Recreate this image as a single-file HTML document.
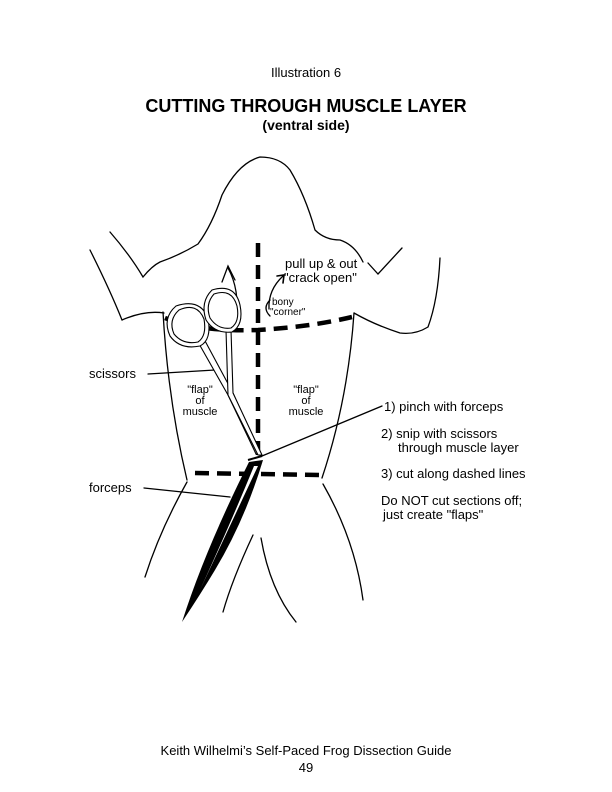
<!DOCTYPE html>
<html><head><meta charset="utf-8"><style>
html,body{margin:0;padding:0;background:#fff;}
svg{display:block;}
text{font-family:"Liberation Sans",Arial,sans-serif;fill:#000;}
</style></head><body>
<svg width="612" height="792" viewBox="0 0 612 792" xmlns="http://www.w3.org/2000/svg">
<text x="306" y="77" font-size="13" text-anchor="middle">Illustration 6</text>
<text x="306" y="112" font-size="18" font-weight="bold" text-anchor="middle">CUTTING THROUGH MUSCLE LAYER</text>
<text x="306" y="130" font-size="14" font-weight="bold" text-anchor="middle">(ventral side)</text>

<g fill="none" stroke="#000" stroke-width="1.3" stroke-linecap="round">
<path d="M110,232 Q130,255 143,277 Q152,266 160,262 Q180,255 198,244 Q212,225 222,195 Q238,163 260,157 Q280,157 290,170 Q305,195 315,230 Q325,240 340,240 Q355,245 363,262"/>
<path d="M90,250 Q110,290 122,320"/>
<path d="M122,320 Q145,310 164,313"/>
<path d="M368,263 L378,274 L402,248"/>
<path d="M440,258 Q438,300 428,327 Q415,335 400,333 Q375,325 354,313"/>
<path d="M163,312 Q168,400 187,480"/>
<path d="M354,313 Q348,400 322,478"/>
<path d="M187,482 Q160,530 145,577"/>
<path d="M323,484 Q355,540 363,600"/>
<path d="M253,535 Q232,580 223,612"/>
<path d="M261,538 Q270,590 296,622"/>
<path d="M236,318 Q240,290 228,268"/>
<path d="M222,282 L228,266 L235,280"/>
<path d="M269,309 Q268,290 283,276"/>
<path d="M277,276 L284,275 L283,283" stroke-width="1.6"/>
<path d="M270,300 Q262,308 270,316"/>
<path d="M148,374 L215,370"/>
<path d="M144,488 L230,497"/>
<path d="M262,456 L382,406"/>
</g>

<g fill="none" stroke="#000" stroke-width="4.5" stroke-dasharray="14,8">
<path d="M258,243 L258,460"/>
<path d="M165,318 Q200,332 258,330 Q310,327 352,317"/>
<path d="M195,473 L320,475"/>
</g>

<!-- scissors -->
<g fill="#fff" stroke="#000" stroke-width="1.1">
<path d="M198,342 L228,395 L256,454 L260,454 L233,393 L204,339 Z"/>
<path d="M226,330 L228,395 L258,455 L262,455 L233,393 L231,330 Z"/>
<path d="M176,306 Q162,318 170,336 Q180,350 200,346 Q212,340 208,318 Q200,298 176,306 Z"/>
<path d="M179,310 Q168,320 174,334 Q183,345 198,342 Q207,336 204,319 Q197,302 179,310 Z"/>
<path d="M212,290 Q200,302 206,320 Q215,334 232,332 Q244,325 240,305 Q235,283 212,290 Z"/>
<path d="M214,294 Q205,304 210,318 Q218,330 231,328 Q240,322 237,306 Q232,288 214,294 Z"/>
</g>

<!-- forceps -->
<path d="M249,462 L263,460 Q245,520 215,570 Q200,595 182,622 Q205,550 249,462 Z" fill="#000"/>
<path d="M254,466 Q232,520 200,590 Q228,530 258,466 Z" fill="#fff"/>
<path d="M248,460 L262,456" stroke="#000" stroke-width="2"/>

<g font-size="13">
<text x="285" y="268">pull up &amp; out</text>
<text x="284" y="282">"crack open"</text>
<text x="89" y="378">scissors</text>
<text x="89" y="492">forceps</text>
<text x="384" y="411">1) pinch with forceps</text>
<text x="381" y="438">2) snip with scissors</text>
<text x="398" y="452">through muscle layer</text>
<text x="381" y="478">3) cut along dashed lines</text>
<text x="381" y="505">Do NOT cut sections off;</text>
<text x="383" y="519">just create "flaps"</text>
</g>
<g font-size="11" text-anchor="middle">
<text x="200" y="393">"flap"</text>
<text x="200" y="404">of</text>
<text x="200" y="415">muscle</text>
<text x="306" y="393">"flap"</text>
<text x="306" y="404">of</text>
<text x="306" y="415">muscle</text>
</g>
<text x="272" y="305" font-size="10">bony</text>
<text x="270" y="315" font-size="10">"corner"</text>

<text x="306" y="755" font-size="13" text-anchor="middle">Keith Wilhelmi’s Self-Paced Frog Dissection Guide</text>
<text x="306" y="772" font-size="13" text-anchor="middle">49</text>
</svg>
</body></html>
